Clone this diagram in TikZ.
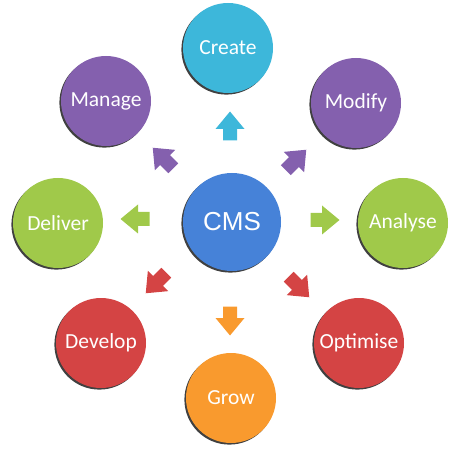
\documentclass[tikz,border=0pt]{standalone}
\usepackage{fontspec}
\newfontfamily\labfont{Carlito}
\newfontfamily\cmsfont{Liberation Sans}
\usetikzlibrary{shadows}
\definecolor{ccyan}{HTML}{3DB7DA}
\definecolor{cpurple}{HTML}{8460AE}
\definecolor{cgreen}{HTML}{A0C94A}
\definecolor{cred}{HTML}{D44444}
\definecolor{corange}{HTML}{F99A2E}
\definecolor{cblue}{HTML}{4682D8}
\tikzset{
  ball/.style={circle, minimum size=90pt, inner sep=0pt, text=white,
    font=\labfont\fontsize{21.5}{25}\selectfont,
    general shadow={shadow xshift=-1.6pt, shadow yshift=-1.6pt, fill=black!75}},
  hub/.style={ball, minimum size=98pt, font=\cmsfont\fontsize{26}{30}\selectfont},
  blockarrow/.pic={
    \fill[pic actions] (-14.5,-7) -- (-3,-7) -- (-3,-14.5) -- (14.5,0)
      -- (-3,14.5) -- (-3,7) -- (-14.5,7) -- cycle;}
}
\begin{document}
\begin{tikzpicture}[x=1pt,y=1pt]
\useasboundingbox (0,0) rectangle (460,450);
\node[hub, fill=cblue] (cms) at (232,228) {CMS};
\node[ball, fill=ccyan] (create) at (228,402) {Create};
\node[ball, fill=cpurple] (manage) at (106,349) {Manage};
\node[ball, fill=cpurple] (modify) at (356,347) {Modify};
\node[ball, fill=cgreen] (deliver) at (58,227) {Deliver};
\node[ball, fill=cgreen] (analyse) at (403,227) {Analyse};
\node[ball, fill=cred] (develop) at (101,107) {Develop};
\node[ball, fill=cred] (optimise) at (359,107) {Optimise};
\node[ball, fill=corange] (grow) at (231,52) {Grow};
\pic[fill=ccyan, rotate=90] at (230,324) {blockarrow};
\pic[fill=cpurple, rotate=135] at (163,292) {blockarrow};
\pic[fill=cpurple, rotate=45] at (296,290) {blockarrow};
\pic[fill=cgreen, rotate=180] at (135,231) {blockarrow};
\pic[fill=cgreen, rotate=0] at (325,230) {blockarrow};
\pic[fill=cred, rotate=225] at (156,167) {blockarrow};
\pic[fill=cred, rotate=-45] at (299,163) {blockarrow};
\pic[fill=corange, rotate=-90] at (230,129) {blockarrow};
\end{tikzpicture}
\end{document}
